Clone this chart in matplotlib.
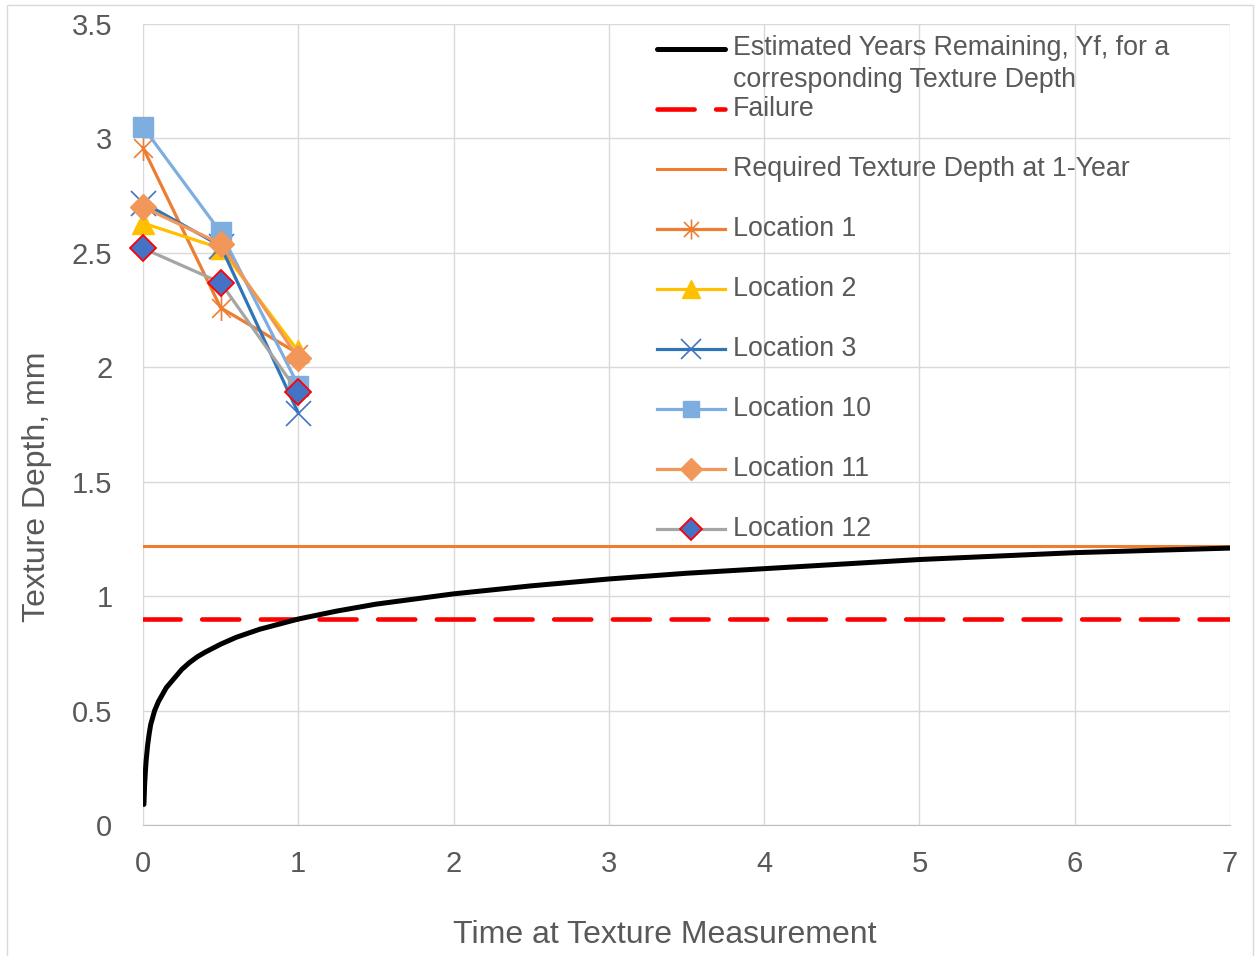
"""Texture depth vs time at measurement, with estimated decay curve"""

import matplotlib

matplotlib.use("Agg")
import matplotlib.pyplot as plt
from matplotlib.lines import Line2D
from matplotlib.patches import Rectangle
from matplotlib.path import Path
from matplotlib.ticker import FuncFormatter

plt.rcParams["font.family"] = ["Liberation Sans", "DejaVu Sans"]

# estimated years remaining curve
yf_years = [0.006, 0.01, 0.015, 0.02, 0.03, 0.04, 0.05, 0.075, 0.1, 0.125, 0.15, 0.175,
            0.2, 0.25, 0.3, 0.35, 0.4, 0.5, 0.6, 0.75, 1.0, 1.25, 1.5, 2.0, 2.5, 3.0,
            3.5, 4.0, 4.5, 5.0, 5.5, 6.0, 6.5, 7.0]
yf_depth = [0.09, 0.17, 0.23, 0.28, 0.35, 0.40, 0.44, 0.50, 0.54, 0.57, 0.60, 0.62,
            0.64, 0.68, 0.71, 0.735, 0.755, 0.79, 0.82, 0.855, 0.90, 0.935, 0.965, 1.01,
            1.045, 1.075, 1.10, 1.12, 1.14, 1.16, 1.175, 1.19, 1.20, 1.21]

failure_x = [0, 7]
failure_y = [0.9, 0.9]
required_x = [0, 7]
required_y = [1.22, 1.22]

meas_time = [0, 0.5, 1]
loc_names = ["Location 1", "Location 2", "Location 3", "Location 10", "Location 11", "Location 12"]
loc_1 = [2.96, 2.26, 2.06]
loc_2 = [2.63, 2.52, 2.07]
loc_3 = [2.72, 2.53, 1.80]
loc_10 = [3.05, 2.59, 1.92]
loc_11 = [2.70, 2.54, 2.04]
loc_12 = [2.52, 2.37, 1.89]

x_ticks = [0, 1, 2, 3, 4, 5, 6, 7]
y_ticks = [0, 0.5, 1, 1.5, 2, 2.5, 3, 3.5]

W, H = 1255, 956
TEXT = "#595959"
GRID = "#D9D9D9"

# asterisk marker: vertical bar plus an x
asterisk = Path(
    [(0, -1), (0, 1), (-0.75, -0.75), (0.75, 0.75), (-0.75, 0.75), (0.75, -0.75)],
    [Path.MOVETO, Path.LINETO, Path.MOVETO, Path.LINETO, Path.MOVETO, Path.LINETO],
)

loc_styles = [
    dict(color="#ED7D31", marker=asterisk, ms=18, mfc="none", mec="#ED7D31", mew=1.2),
    dict(color="#FFC000", marker="^", ms=16, mfc="#FFC000", mec="#FFC000", mew=1),
    dict(color="#2E75B6", marker="x", ms=18, mfc="none", mec="#4472C4", mew=1.2),
    dict(color="#7EAEE0", marker="s", ms=15, mfc="#7EAEE0", mec="#7EAEE0", mew=1),
    dict(color="#F1975A", marker="D", ms=13.5, mfc="#F1975A", mec="#F1975A", mew=1),
    dict(color="#A5A5A5", marker="D", ms=13.5, mfc="#4472C4", mec="#FF0000", mew=1.3),
]
loc_values = [loc_1, loc_2, loc_3, loc_10, loc_11, loc_12]

fig = plt.figure(figsize=(W / 100, H / 100), dpi=100)
ax = fig.add_axes([143 / W, 1 - 825 / H, (1230 - 143) / W, (825 - 24) / H])

# chart area border
fig.add_artist(Rectangle((7 / W, -0.01), (1253 - 7) / W, 1 - 5 / H + 0.01,
                         transform=fig.transFigure, fill=False, edgecolor=GRID, lw=1))

ax.plot(yf_years, yf_depth, color="black", lw=3.6, solid_capstyle="round",
        solid_joinstyle="round", zorder=3)
ax.plot(failure_x, failure_y, color="#FF0000", lw=3.3, dashes=(8.1, 4.7),
        dash_capstyle="round", zorder=2)
ax.plot(required_x, required_y, color="#ED7D31", lw=2.2, zorder=2)

for vals, st in zip(loc_values, loc_styles):
    ax.plot(meas_time, vals, lw=2.3, zorder=4, clip_on=False, **st)

ax.set_xlim(0, 7)
ax.set_ylim(0, 3.5)
ax.set_xticks(x_ticks)
ax.set_yticks(y_ticks)
ax.yaxis.set_major_formatter(FuncFormatter(lambda v, p: f"{v:g}"))
ax.grid(True, color=GRID, lw=1)
ax.set_axisbelow(True)
for side in ["top", "right", "left"]:
    ax.spines[side].set_visible(False)
ax.spines["bottom"].set_color("#BFBFBF")
ax.tick_params(length=0, labelsize=21, labelcolor=TEXT)
ax.tick_params(axis="y", pad=22)
ax.tick_params(axis="x", pad=18)

fig.text(665 / W, 1 - 935 / H, "Time at Texture Measurement", ha="center", va="center",
         fontsize=23, color=TEXT)
fig.text(37 / W, 1 - 487 / H, "Texture Depth, mm", ha="center", va="center",
         rotation=90, fontsize=23, color=TEXT)


# legend drawn by hand to keep the Excel row spacing
def legend_row(y_px, label, text_y_px=None, **style):
    y = 1 - y_px / H
    x0, x1 = 657 / W, 725 / W
    marker = style.pop("marker", None)
    ms = style.pop("ms", None)
    mfc = style.pop("mfc", None)
    mec = style.pop("mec", None)
    mew = style.pop("mew", None)
    fig.add_artist(Line2D([x0, x1], [y, y], transform=fig.transFigure, **style))
    if marker is not None:
        fig.add_artist(Line2D([(x0 + x1) / 2], [y], transform=fig.transFigure, lw=0,
                              marker=marker, ms=ms * 0.8, mfc=mfc, mec=mec, mew=mew))
    ty = y if text_y_px is None else 1 - text_y_px / H
    fig.text(733 / W, ty, label, ha="left", va="center", fontsize=19.3, color=TEXT,
             linespacing=1.33)


legend_row(49, "Estimated Years Remaining, Yf, for a\ncorresponding Texture Depth",
           text_y_px=64, color="black", lw=3.6, solid_capstyle="round")
legend_row(109, "Failure", color="#FF0000", lw=3.3, dashes=(8.1, 4.7), dash_capstyle="round")
legend_row(169, "Required Texture Depth at 1-Year", color="#ED7D31", lw=2.2)
for i, (name, st) in enumerate(zip(loc_names, loc_styles)):
    legend_row(229 + 60 * i, name, lw=2.3, **dict(st))

fig.savefig("out.png", dpi=100)
